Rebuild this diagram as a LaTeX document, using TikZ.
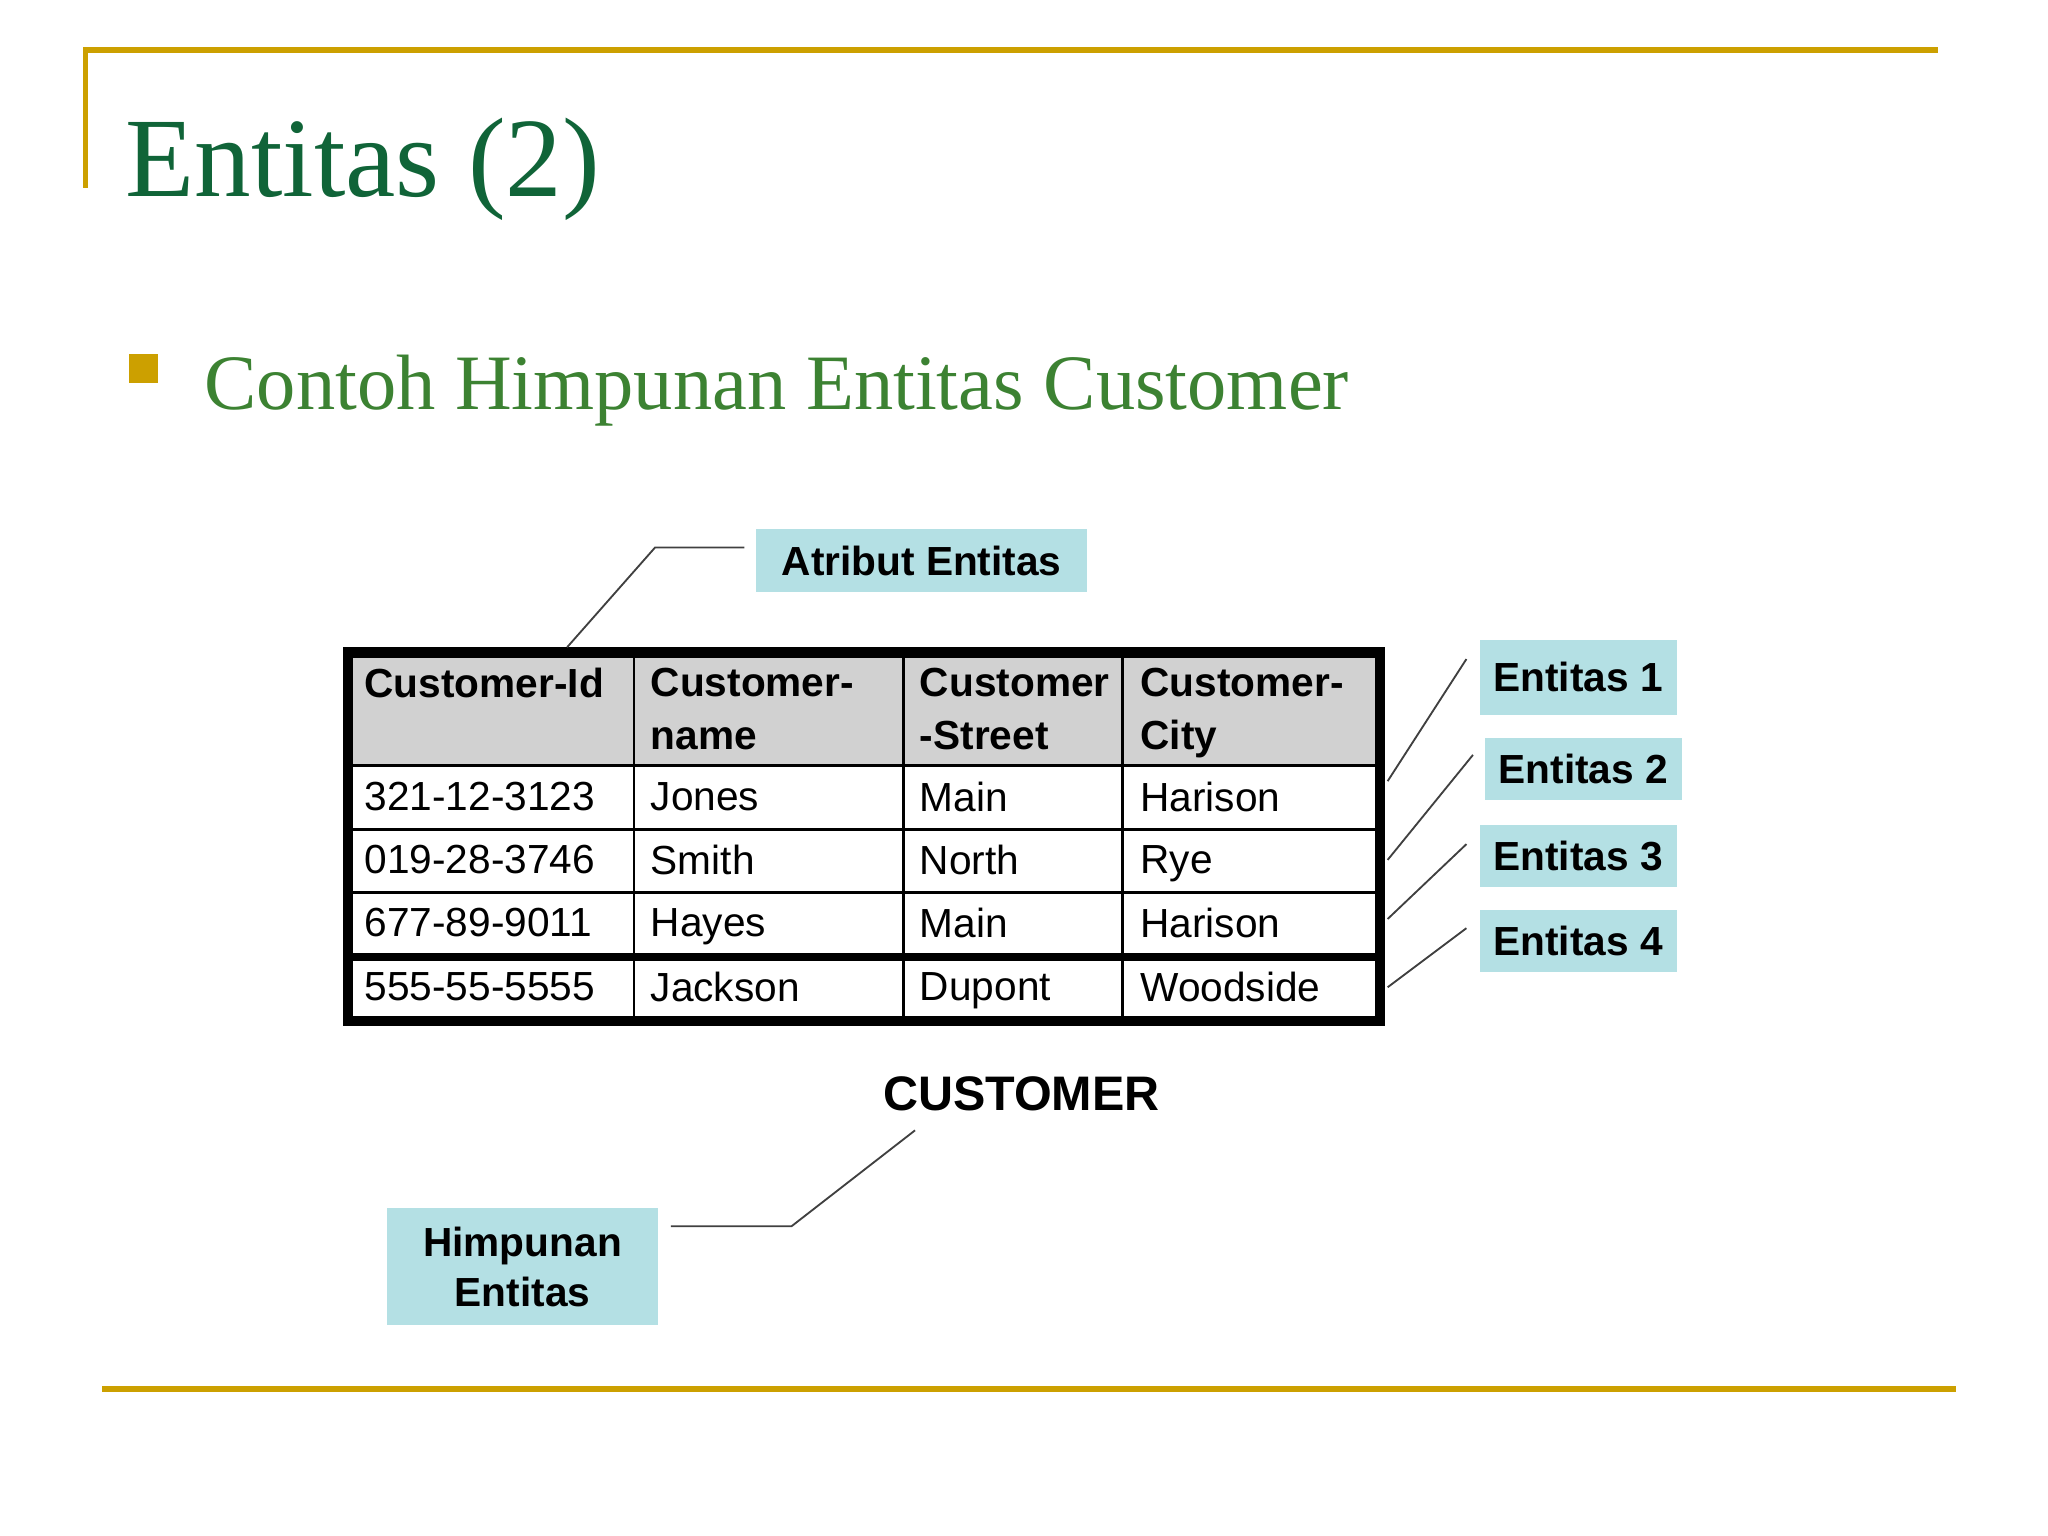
\documentclass[tikz,border=0pt]{standalone}
\usepackage{fontspec}
\setmainfont{Liberation Serif}
\setsansfont{Liberation Sans}
\begin{document}
\begin{tikzpicture}[x=0.01cm,y=-0.01cm,
  lbl/.style={fill=lblue,font=\sffamily\bfseries\fontsize{8.8}{11}\selectfont,inner sep=0},
  cell/.style={anchor=north west,font=\sffamily\fontsize{8.8}{12}\selectfont,inner sep=0,align=left},
  hcell/.style={cell,font=\sffamily\bfseries\fontsize{8.8}{11.5}\selectfont},
  thin line/.style={draw=black!75,line width=0.4pt}]
\definecolor{gold}{RGB}{204,160,0}
\definecolor{tgreen}{RGB}{16,100,56}
\definecolor{bgreen}{RGB}{60,130,50}
\definecolor{lblue}{RGB}{180,224,228}
\useasboundingbox (0,0) rectangle (1560,1170);
% frame lines
\draw[gold,line width=1.2pt] (65,143) -- (65,38) -- (1476,38);
\draw[gold,line width=1.2pt] (78,1058) -- (1490,1058);
\node[anchor=base west,text=tgreen,font=\fontsize{24.5}{28}\selectfont,inner sep=0] (title) at (95,150) {Entitas (2)};
\fill[gold] (98,270) rectangle (120,292);
\node[anchor=base west,text=bgreen,font=\fontsize{17}{20}\selectfont,inner sep=0] (sub) at (155,312) {Contoh Himpunan Entitas Customer};
% table
\fill[black!18] (265,497) rectangle (1051,583);
\draw[line width=0.6pt] (265,583) -- (1051,583) (265,632) -- (1051,632) (265,680) -- (1051,680);
\draw[line width=1.8pt] (265,729) -- (1051,729);
\draw[line width=0.6pt] (483,497) -- (483,778) (688,497) -- (688,778) (855,497) -- (855,778);
\draw[line width=2.2pt] (265,497) rectangle (1051,778);
\node[hcell] (h1) at (277,508) {Customer-Id};
\node[hcell] (h2) at (495,508) {Customer-\\name};
\node[hcell] (h3) at (700,508) {Customer\\-Street};
\node[hcell] (h4) at (868,508) {Customer-\\City};
\foreach \y/\a/\b/\c/\d [count=\i] in {595/321-12-3123/Jones/Main/Harison,643/019-28-3746/Smith/North/Rye,691/677-89-9011/Hayes/Main/Harison,740/555-55-5555/Jackson/Dupont/Woodside}{
  \node[cell] (r\i a) at (277,\y) {\a};
  \node[cell] (r\i b) at (495,\y) {\b};
  \node[cell] (r\i c) at (700,\y) {\c};
  \node[cell] (r\i d) at (868,\y) {\d};
}
\node[font=\sffamily\bfseries\fontsize{10.5}{12}\selectfont,inner sep=0] (cust) at (778,833) {CUSTOMER};
% labels
\node[lbl,minimum width=2.52cm,minimum height=0.48cm] (attr) at (702,427) {Atribut Entitas};
\node[lbl,minimum width=1.5cm,minimum height=0.57cm] (e1) at (1202,516) {Entitas 1};
\node[lbl,minimum width=1.5cm,minimum height=0.47cm] (e2) at (1206,586) {Entitas 2};
\node[lbl,minimum width=1.5cm,minimum height=0.47cm] (e3) at (1202,652) {Entitas 3};
\node[lbl,minimum width=1.5cm,minimum height=0.47cm] (e4) at (1202,717) {Entitas 4};
\node[lbl,minimum width=2.06cm,minimum height=0.89cm,align=center] (him) at (398,965) {Himpunan\\Entitas};
% connectors
\coordinate (a1) at (567,417); \coordinate (a2) at (499,417); \coordinate (a3) at (432,493);
\draw[thin line] (a1) -- (a2) -- (a3);
\coordinate (c1) at (1117,502); \coordinate (d1) at (1057,595);
\coordinate (c2) at (1122,575); \coordinate (d2) at (1057,655);
\coordinate (c3) at (1117,643); \coordinate (d3) at (1057,700);
\coordinate (c4) at (1117,707); \coordinate (d4) at (1057,752);
\foreach \i in {1,2,3,4} \draw[thin line] (c\i) -- (d\i);
\coordinate (m1) at (511,934); \coordinate (m2) at (603,934); \coordinate (m3) at (697,861);
\draw[thin line] (m1) -- (m2) -- (m3);
\end{tikzpicture}
\end{document}
